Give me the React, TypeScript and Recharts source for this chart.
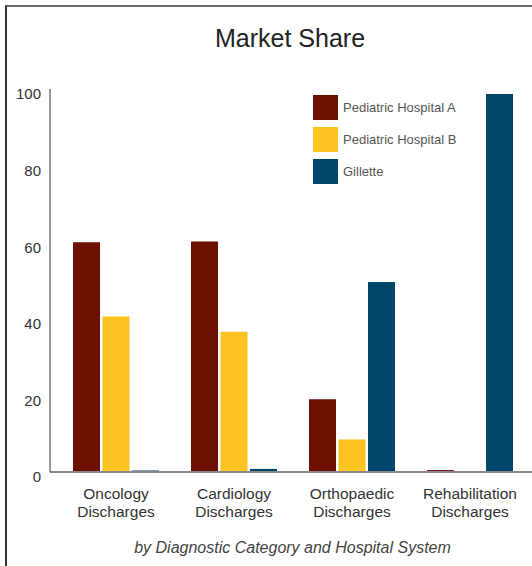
import React from 'react';
import { BarChart, Bar, XAxis, YAxis, Legend } from 'recharts';

const categories = ['Oncology Discharges', 'Cardiology Discharges', 'Orthopaedic Discharges', 'Rehabilitation Discharges'];
const hospitalA = [60, 60.2, 19.0, 0.5];
const hospitalB = [40.6, 36.6, 8.5, 0];
const gillette = [0.4, 0.8, 49.6, 98.7];
const yTicks = [0, 20, 40, 60, 80, 100];

const seriesNames = ['Pediatric Hospital A', 'Pediatric Hospital B', 'Gillette'];
const seriesColors = ['#6E1000', '#FDC323', '#00456A'];

const data = categories.map((c, i) => ({
  name: c,
  a: hospitalA[i],
  b: hospitalB[i],
  g: gillette[i],
}));

const FONT = '"Liberation Sans", Arial, Helvetica, sans-serif';

const XTick = (props: any) => {
  const { x, y, payload } = props;
  const words = String(payload.value).split(' ');
  return (
    <g transform={`translate(${x},${y})`}>
      {words.map((w: string, i: number) => (
        <text key={i} x={0} y={19 + i * 18} textAnchor="middle" fill="#333" fontSize={15.5} fontFamily={FONT}>
          {w}
        </text>
      ))}
    </g>
  );
};

const LegendContent = () => (
  <div style={{ fontFamily: FONT }}>
    {seriesNames.map((n, i) => (
      <div key={n} style={{ display: 'flex', alignItems: 'center', height: 25, marginBottom: 7 }}>
        <div style={{ width: 25, height: 25, background: seriesColors[i], marginRight: 5 }} />
        <span style={{ fontSize: 13, color: '#555' }}>{n}</span>
      </div>
    ))}
  </div>
);

export default function App() {
  return (
    <div style={{ position: 'absolute', left: 0, top: 0, width: 532, height: 566, background: '#fff', overflow: 'hidden', fontFamily: FONT }}>
      <div style={{ position: 'absolute', left: 5, top: 5, width: 540, height: 580, borderTop: '2px solid #6b6b6b', borderLeft: '2px solid #333', boxSizing: 'border-box' }} />
      <div style={{ position: 'absolute', left: 0, top: 24, width: 580, textAlign: 'center', fontSize: 25, color: '#222' }}>
        Market Share
      </div>
      <BarChart
        width={532}
        height={566}
        data={data}
        margin={{ top: 89, right: 0, bottom: 0, left: 0 }}
        barSize={27}
        barGap={2.5}
        style={{ position: 'absolute', left: 0, top: 0 }}
      >
        <XAxis
          dataKey="name"
          height={94}
          padding={{ left: 7, right: 3 }}
          axisLine={{ stroke: '#888', strokeWidth: 2 }}
          tickLine={false}
          tick={<XTick />}
          interval={0}
        />
        <YAxis
          width={50}
          domain={[0, 100]}
          ticks={yTicks}
          axisLine={{ stroke: '#777', strokeWidth: 1.5 }}
          tickLine={false}
          tickMargin={3}
          tick={{ fill: '#333', fontSize: 15, fontFamily: FONT, dy: 5 }}
        />
        <Legend
          layout="vertical"
          align="center"
          verticalAlign="middle"
          wrapperStyle={{ position: 'absolute', top: 95, left: 313, width: 200 }}
          content={<LegendContent />}
        />
        <Bar dataKey="a" name={seriesNames[0]} fill={seriesColors[0]} isAnimationActive={false} />
        <Bar dataKey="b" name={seriesNames[1]} fill={seriesColors[1]} isAnimationActive={false} />
        <Bar dataKey="g" name={seriesNames[2]} fill={seriesColors[2]} isAnimationActive={false} />
      </BarChart>
      <div style={{ position: 'absolute', left: 0, top: 539, width: 585, textAlign: 'center', fontSize: 16, fontStyle: 'italic', color: '#444' }}>
        by Diagnostic Category and Hospital System
      </div>
    </div>
  );
}
